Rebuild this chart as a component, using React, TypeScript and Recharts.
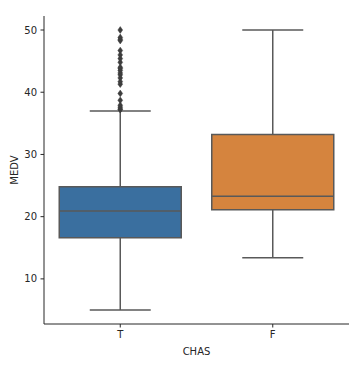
import React from 'react';
import {
  ScatterChart,
  Scatter,
  XAxis,
  YAxis,
  ReferenceArea,
  ReferenceLine,
} from 'recharts';

const categories = ['T', 'F'];
const q1 = [16.6, 21.1];
const median = [20.9, 23.3];
const q3 = [24.8, 33.2];
const whiskerLow = [5.0, 13.4];
const whiskerHigh = [37.0, 50.0];
const outliersT = [
  37.2, 37.3, 37.6, 37.9, 38.7, 39.8, 41.3, 41.7, 42.3, 42.8, 43.1, 43.5, 43.8,
  44.0, 44.8, 45.4, 46.0, 46.7, 48.3, 48.5, 48.8, 50.0,
];
const yTicks = [10, 20, 30, 40, 50];
const colors = ['#3a6f9f', '#d5843e'];

const outlierData = outliersT.map((v) => ({ x: 0, y: v }));

const LINE = '#595959';
const FONT = 'DejaVu Sans';

const Diamond = (props: any) => {
  const { cx, cy } = props;
  const w = 2.4;
  const h = 3.4;
  return (
    <polygon
      points={`${cx},${cy - h} ${cx + w},${cy} ${cx},${cy + h} ${cx - w},${cy}`}
      fill="#3d3d3d"
      stroke="#3d3d3d"
      strokeWidth={0.5}
    />
  );
};

export default function App() {
  const boxHalf = 0.4;
  const capHalf = 0.2;
  return (
    <div style={{ position: 'absolute', left: 0, top: 0, width: 363, height: 369, background: '#fff' }}>
      <ScatterChart
        width={363}
        height={369}
        margin={{ top: 16, right: 14, bottom: 0, left: 0 }}
      >
        <XAxis
          type="number"
          dataKey="x"
          domain={[-0.5, 1.5]}
          ticks={[0, 1]}
          tickFormatter={(v: number) => categories[v] ?? ''}
          height={45}
          tickSize={3.5}
          tickMargin={3}
          stroke="#262626"
          tick={{ fill: '#262626', fontSize: 10, fontFamily: FONT }}
          label={{
            value: 'CHAS',
            position: 'insideBottom',
            offset: 14,
            style: { fill: '#262626', fontSize: 10, fontFamily: FONT },
          }}
          allowDataOverflow
        />
        <YAxis
          type="number"
          dataKey="y"
          domain={[2.75, 52.25]}
          ticks={yTicks}
          width={44}
          tickSize={3.5}
          tickMargin={3.5}
          stroke="#262626"
          tick={{ fill: '#262626', fontSize: 10, fontFamily: FONT }}
          label={{
            value: 'MEDV',
            angle: -90,
            position: 'insideLeft',
            offset: 14,
            style: { fill: '#262626', fontSize: 10, fontFamily: FONT, textAnchor: 'middle' },
          }}
          allowDataOverflow
        />
        {categories.map((c, i) => (
          <ReferenceArea
            key={`box-${c}`}
            x1={i - boxHalf}
            x2={i + boxHalf}
            y1={q1[i]}
            y2={q3[i]}
            fill={colors[i]}
            fillOpacity={1}
            stroke={LINE}
            strokeWidth={1.5}
          />
        ))}
        {categories.map((c, i) => (
          <ReferenceLine
            key={`wl-${c}`}
            segment={[
              { x: i, y: whiskerLow[i] },
              { x: i, y: q1[i] },
            ]}
            stroke={LINE}
            strokeWidth={1.5}
          />
        ))}
        {categories.map((c, i) => (
          <ReferenceLine
            key={`wh-${c}`}
            segment={[
              { x: i, y: q3[i] },
              { x: i, y: whiskerHigh[i] },
            ]}
            stroke={LINE}
            strokeWidth={1.5}
          />
        ))}
        {categories.map((c, i) => (
          <ReferenceLine
            key={`cl-${c}`}
            segment={[
              { x: i - capHalf, y: whiskerLow[i] },
              { x: i + capHalf, y: whiskerLow[i] },
            ]}
            stroke={LINE}
            strokeWidth={1.5}
          />
        ))}
        {categories.map((c, i) => (
          <ReferenceLine
            key={`ch-${c}`}
            segment={[
              { x: i - capHalf, y: whiskerHigh[i] },
              { x: i + capHalf, y: whiskerHigh[i] },
            ]}
            stroke={LINE}
            strokeWidth={1.5}
          />
        ))}
        {categories.map((c, i) => (
          <ReferenceLine
            key={`md-${c}`}
            segment={[
              { x: i - boxHalf, y: median[i] },
              { x: i + boxHalf, y: median[i] },
            ]}
            stroke={LINE}
            strokeWidth={1.5}
          />
        ))}
        <Scatter data={outlierData} shape={<Diamond />} isAnimationActive={false} />
      </ScatterChart>
    </div>
  );
}
